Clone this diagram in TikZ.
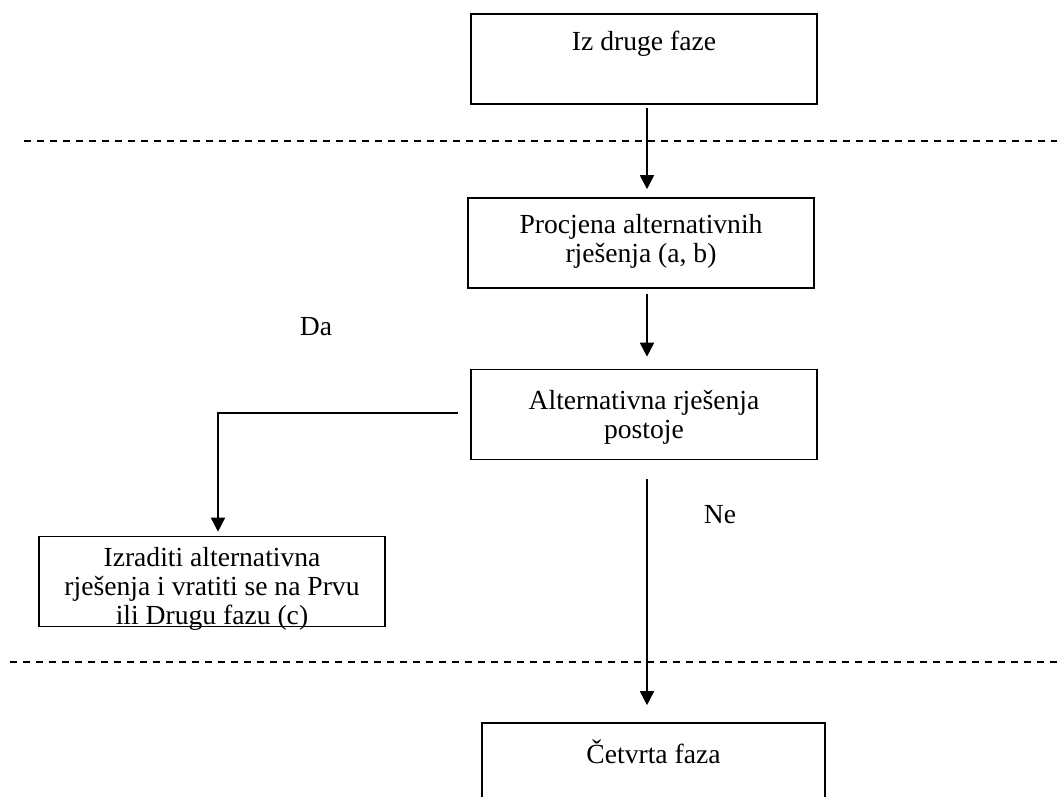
\documentclass[tikz,border=0pt]{standalone}
\usepackage{fontspec}
\setmainfont{Liberation Serif}
\usetikzlibrary{arrows.meta}
\tikzstyle{box}=[rectangle, draw=black, line width=0.8pt, minimum width=173pt, minimum height=45pt, inner sep=0pt, anchor=center]
\tikzstyle{annot}=[align=center, inner sep=0pt, font=\fontsize{13.8}{14.5}\selectfont]
\tikzstyle{arr}=[line width=0.8pt, -{Triangle[width=7pt,length=7pt]}]
\tikzstyle{phase}=[line width=0.8pt, dash pattern=on 3.5pt off 3pt]
\begin{document}
\begin{tikzpicture}[x=0.5pt, y=-0.5pt]
\useasboundingbox (0,0) rectangle (1057,797);

% granice faza
\draw[phase] (24,141) -- (1057,141);
\draw[phase] (10,662) -- (1057,662);

\node[box] (phasetwo) at (644,59) {};
\node[box] (assess) at (641,243) {};
\node[box] (exist) at (644,414.5) {};
\node[box] (develop) at (212,581.5) {};
\node[box, minimum width=171.5pt] (phasefour) at (653.5,768) {};

\node[annot, anchor=north, yshift=-8.6pt] (phasetwotext) at (phasetwo.north) {Iz druge faze};
\node[annot, anchor=north, yshift=-8.6pt] (assesstext) at (assess.north) {Procjena alternativnih\\rješenja (a, b)};
\node[annot, anchor=north, yshift=-10.5pt] (existtext) at (exist.north) {Alternativna rješenja\\postoje};
\node[annot, anchor=north, yshift=-5.6pt] (developtext) at (develop.north) {Izraditi alternativna\\rješenja i vratiti se na Prvu\\ili Drugu fazu (c)};
\node[annot, anchor=north, yshift=-8.6pt] (phasefourtext) at (phasefour.north) {Četvrta faza};

\node[annot] (yes) at (316,327) {Da};
\node[annot] (no) at (720,515) {Ne};

\draw[arr, shorten <=1.5pt, shorten >=4pt] ([xshift=1.5pt]phasetwo.south) -- ([xshift=1.5pt]phasetwo.south |- assess.north);
\draw[arr, shorten <=2.5pt, shorten >=6pt] ([xshift=3pt]assess.south) -- ([xshift=3pt]assess.south |- exist.north);
\draw[arr, shorten <=6pt, shorten >=2pt] ([yshift=0.75pt]exist.west) -| ([xshift=3pt]develop.north);
\draw[arr, shorten <=9.5pt, shorten >=8.5pt] ([xshift=1.5pt]exist.south) -- ([xshift=1.5pt]exist.south |- phasefour.north);

\end{tikzpicture}
\end{document}
